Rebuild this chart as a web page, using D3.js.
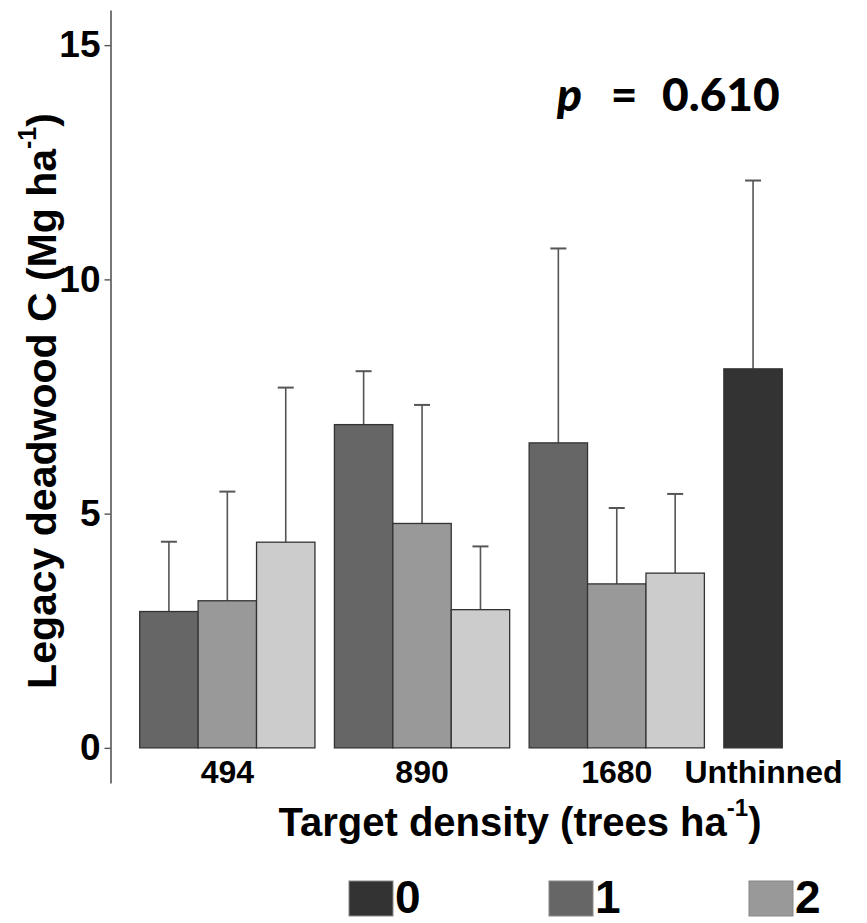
<!DOCTYPE html>
<html>
<head>
<meta charset="utf-8">
<script src="https://cdn.jsdelivr.net/npm/d3@7"></script>
<style>
  body { margin: 0; background: #fff; }
  text { font-family: "Liberation Sans", Arial, sans-serif; font-weight: bold; fill: #000; }
</style>
</head>
<body>
<div id="chart"></div>
<script>
// chart size
var width = 867, height = 923;

// data
var densities = ["494", "890", "1680", "Unthinned"];
var entries = ["0", "1", "2", "3"];
var entryColours = ["#333333", "#666666", "#999999", "#cccccc"];

var barDensity = ["494", "494", "494", "890", "890", "890", "1680", "1680", "1680", "Unthinned"];
var barEntry   = ["1", "2", "3", "1", "2", "3", "1", "2", "3", "0"];
var barMean    = [2.91, 3.14, 4.39, 6.90, 4.79, 2.95, 6.51, 3.50, 3.73, 8.09];
var barUpper   = [4.40, 5.47, 7.69, 8.04, 7.32, 4.30, 10.66, 5.12, 5.42, 12.11];

var yTicks = [0, 5, 10, 15];

var svg = d3.select("#chart").append("svg")
  .attr("width", width)
  .attr("height", height);

var x = d3.scaleBand()
  .domain(densities)
  .range([110.5, 928.3])
  .paddingInner(0.1)
  .paddingOuter(0.15);

var slot = d3.scaleBand()
  .domain([0, 1, 2])
  .range([0, x.bandwidth()]);

var y = d3.scaleLinear()
  .domain([-0.75, 15.75])
  .range([783, 10]);

var colour = d3.scaleOrdinal().domain(entries).range(entryColours);

// position of each bar inside its group
var bars = barMean.map(function (m, i) {
  var idx = 0;
  for (var j = 0; j < i; j++) { if (barDensity[j] == barDensity[i]) idx++; }
  return { density: barDensity[i], entry: barEntry[i], mean: m, upper: barUpper[i], idx: idx };
});

function barX(d) { return x(d.density) + slot(d.idx); }

// error bars first, bars on top
var err = svg.append("g").attr("class", "errors");
err.selectAll("line.stem")
  .data(bars).enter().append("line")
  .attr("class", "stem")
  .attr("x1", function (d) { return barX(d) + slot.bandwidth() / 2; })
  .attr("x2", function (d) { return barX(d) + slot.bandwidth() / 2; })
  .attr("y1", function (d) { return y(d.mean); })
  .attr("y2", function (d) { return y(d.upper); })
  .style("stroke", "#555")
  .style("stroke-width", 1.6);
err.selectAll("line.cap")
  .data(bars).enter().append("line")
  .attr("class", "cap")
  .attr("x1", function (d) { return barX(d) + slot.bandwidth() / 2 - 8; })
  .attr("x2", function (d) { return barX(d) + slot.bandwidth() / 2 + 8; })
  .attr("y1", function (d) { return y(d.upper); })
  .attr("y2", function (d) { return y(d.upper); })
  .style("stroke", "#555")
  .style("stroke-width", 2);

svg.append("g").selectAll("rect")
  .data(bars).enter().append("rect")
  .attr("x", barX)
  .attr("width", slot.bandwidth())
  .attr("y", function (d) { return y(d.mean); })
  .attr("height", function (d) { return y(0) - y(d.mean); })
  .style("fill", function (d) { return colour(d.entry); })
  .style("stroke", "#333")
  .style("stroke-width", 1.3);

// y axis
var yAxis = svg.append("g")
  .attr("transform", "translate(110.5,0)")
  .call(d3.axisLeft(y).tickValues(yTicks).tickSize(6).tickSizeOuter(0).tickPadding(4));
yAxis.select(".domain").style("stroke", "#555").style("stroke-width", 1.6);
yAxis.selectAll(".tick line").style("stroke", "#555").style("stroke-width", 1.4);
yAxis.selectAll(".tick text")
  .style("font-size", "37px")
  .style("font-family", "Liberation Sans, Arial, sans-serif")
  .style("font-weight", "bold")
  .attr("fill", "#000");

// x axis labels
var xAxis = svg.append("g")
  .attr("transform", "translate(0," + y(0) + ")")
  .call(d3.axisBottom(x).tickSize(0).tickPadding(12));
xAxis.select(".domain").remove();
xAxis.selectAll(".tick text")
  .style("font-size", "32px")
  .style("font-family", "Liberation Sans, Arial, sans-serif")
  .style("font-weight", "bold")
  .attr("fill", "#000")
  .attr("x", function (d) { return d == "Unthinned" ? -48 : 0; });

// axis titles
var xt = svg.append("text")
  .attr("x", 520).attr("y", 836)
  .attr("text-anchor", "middle")
  .style("font-size", "40px");
xt.append("tspan").text("Target density (trees ha");
xt.append("tspan").attr("dy", -20).style("font-size", "24px").text("-1");
xt.append("tspan").attr("dy", 20).text(")");

var yt = svg.append("text")
  .attr("transform", "translate(56,401) rotate(-90)")
  .attr("text-anchor", "middle")
  .style("font-size", "41px");
yt.append("tspan").text("Legacy deadwood C (Mg ha");
yt.append("tspan").attr("dy", -20).style("font-size", "25px").text("-1");
yt.append("tspan").attr("dy", 20).text(")");

// p value
var pt = svg.append("g");
pt.append("text").attr("x", 557).attr("y", 111)
  .style("font-family", "Lato, 'Open Sans', sans-serif")
  .style("font-weight", "900")
  .style("font-style", "italic").style("font-size", "46px").text("p");
pt.append("text").attr("x", 624).attr("y", 111).attr("text-anchor", "middle")
  .style("font-family", "Lato, 'Open Sans', sans-serif")
  .style("font-weight", "900")
  .style("font-size", "46px").text("=");
pt.append("text").attr("x", 662).attr("y", 111)
  .style("font-family", "Lato, 'Open Sans', sans-serif")
  .style("font-weight", "900")
  .style("font-size", "46px").text("0.610");

// legend (only the keys that fit inside the picture)
var legendX = function (i) { return 349 + i * 200; };
var legend = svg.append("g").selectAll("g")
  .data(entries.filter(function (d, i) { return legendX(i) < width - 60; }))
  .enter().append("g")
  .attr("transform", function (d, i) { return "translate(" + legendX(i) + ",881)"; });
legend.append("rect")
  .attr("width", 44).attr("height", 35)
  .style("fill", function (d) { return colour(d); })
  .style("stroke", "#888")
  .style("stroke-width", 1);
legend.append("text")
  .attr("x", 46).attr("y", 32)
  .style("font-size", "46px")
  .text(function (d) { return d; });
</script>
</body>
</html>
